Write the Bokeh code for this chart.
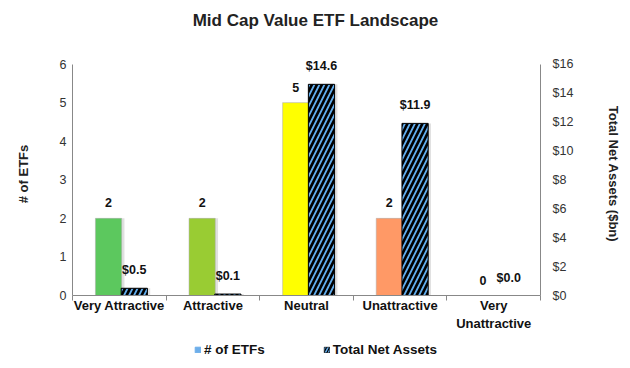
from bokeh.plotting import figure
from bokeh.layouts import column
from bokeh.models import (ColumnDataSource, Range1d, LinearAxis, FixedTicker,
                          NumeralTickFormatter, Legend, LegendItem, LabelSet, Label)
from bokeh.core.properties import value
from bokeh.embed import file_html
from bokeh.resources import INLINE

title_text = "Mid Cap Value ETF Landscape"
categories = ["Very Attractive", "Attractive", "Neutral", "Unattractive", "Very Unattractive"]
tick_labels = ["Very Attractive", "Attractive", "Neutral", "Unattractive", "Very\nUnattractive"]
etf_counts = [2, 2, 5, 2, 0]
net_assets = [0.5, 0.1, 14.6, 11.9, 0.0]
bar_colors = ["#5CC85E", "#99CC33", "#FFFF00", "#FF9966", "#C0C0C0"]
series_names = ["# of ETFs", "Total Net Assets"]
count_ticks = [0, 1, 2, 3, 4, 5, 6]
asset_ticks = [0, 2, 4, 6, 8, 10, 12, 14, 16]

FONT = "Liberation Sans"
HATCH_BLUE = "#62AEEF"
W = 624
HEADROOM = 1.05  # extra room above the top tick so the tallest label is not clipped

n = len(categories)
centers = [i + 0.5 for i in range(n)]
src = ColumnDataSource(dict(
    cat=categories,
    xc=[c - 0.115 for c in centers],
    xa=[c + 0.16 for c in centers],
    xcs=[c - 0.115 + 0.03 for c in centers],
    xas=[c + 0.16 + 0.03 for c in centers],
    cnt=etf_counts,
    tna=net_assets,
    cnt_lbl=[str(v) for v in etf_counts],
    tna_lbl=["$%.1f" % v for v in net_assets],
    color=bar_colors,
))

# ---- title strip
p0 = figure(width=W, height=36, output_backend="svg", toolbar_location=None,
            x_axis_type=None, y_axis_type=None, x_range=Range1d(0, 1), y_range=Range1d(0, 1),
            min_border=0, min_border_left=0, min_border_right=0,
            min_border_top=0, min_border_bottom=0)
p0.outline_line_color = None
p0.xgrid.visible = False
p0.ygrid.visible = False
p0.add_layout(Label(x=243, y=16, x_units="screen", y_units="screen", text=title_text,
                    text_font=FONT, text_font_size="17px", text_font_style="bold",
                    text_color="#222222", text_align="center", text_baseline="middle"))

# ---- main chart
ymax = count_ticks[-1] * HEADROOM
p = figure(width=W, height=304, output_backend="svg", toolbar_location=None,
           x_range=Range1d(0, n), y_range=Range1d(0, ymax),
           min_border_left=72, min_border_right=W - 542, min_border_top=16, min_border_bottom=45)
p.xgrid.visible = False
p.ygrid.visible = False
p.outline_line_color = None

p.extra_y_ranges = {"tna": Range1d(0, asset_ticks[-1] * HEADROOM)}

BW = 0.28
# soft shadows
p.vbar(x="xcs", top="cnt", width=BW, source=src, fill_color="#999999", fill_alpha=0.3,
       line_color=None)
p.vbar(x="xas", top="tna", width=BW, source=src, y_range_name="tna", fill_color="#999999",
       fill_alpha=0.3, line_color=None)

r_cnt = p.vbar(x="xc", top="cnt", width=BW, source=src, fill_color="color",
               line_color="#AAAAAA", line_width=0.5)
r_tna = p.vbar(x="xa", top="tna", width=BW, source=src, y_range_name="tna",
               fill_color="black", line_color="black", line_width=1,
               hatch_pattern="/", hatch_color=HATCH_BLUE, hatch_weight=1.8, hatch_scale=10)

lbl_style = dict(text_font=value(FONT), text_font_size=value("12.5px"),
                 text_font_style=value("bold"), text_align=value("center"),
                 text_baseline=value("bottom"), text_color=value("#111111"))
p.add_layout(LabelSet(x="xc", y="cnt", text="cnt_lbl", source=src, y_offset=11, **lbl_style))
p.add_layout(LabelSet(x="xa", y="tna", text="tna_lbl", source=src, y_range_name="tna",
                      y_offset=11, **lbl_style))

def style_axis(ax):
    ax.axis_line_color = "#888888"
    ax.major_label_text_font = FONT
    ax.major_label_text_font_size = "12.5px"
    ax.major_label_text_color = "#333333"
    ax.axis_label_text_font = FONT
    ax.axis_label_text_font_size = "13px"
    ax.axis_label_text_font_style = "bold"
    ax.axis_label_text_color = "#222222"
    ax.minor_tick_line_color = None

xa = p.xaxis[0]
style_axis(xa)
xa.ticker = FixedTicker(ticks=centers, minor_ticks=[float(i) for i in range(n + 1)])
xa.major_label_overrides = {c: t for c, t in zip(centers, tick_labels)}
xa.major_tick_line_color = None
xa.major_tick_out = 0
xa.major_tick_in = 0
xa.minor_tick_line_color = "#888888"
xa.minor_tick_out = 5
xa.minor_tick_in = 0
xa.major_label_text_font_style = "bold"
xa.major_label_text_font_size = "13px"
xa.major_label_text_color = "#111111"
xa.major_label_standoff = -3

ya = p.yaxis[0]
style_axis(ya)
ya.ticker = FixedTicker(ticks=count_ticks)
ya.bounds = (count_ticks[0], count_ticks[-1])
ya.axis_label = "# of ETFs"
ya.major_tick_out = 0
ya.major_tick_in = 0
ya.major_label_standoff = 6
ya.axis_label_standoff = 26

ra = LinearAxis(y_range_name="tna", ticker=FixedTicker(ticks=asset_ticks),
                formatter=NumeralTickFormatter(format="$0"),
                axis_label="Total Net Assets ($bn)")
style_axis(ra)
ra.bounds = (asset_ticks[0], asset_ticks[-1])
ra.major_tick_out = 0
ra.major_tick_in = 0
ra.major_label_standoff = 12
ra.axis_label_standoff = 30
p.add_layout(ra, "right")

# ---- legend strip
p2 = figure(width=W, height=20, output_backend="svg", toolbar_location=None,
            x_axis_type=None, y_axis_type=None, x_range=Range1d(0, 1), y_range=Range1d(0, 1),
            min_border=0, min_border_left=0, min_border_right=0,
            min_border_top=0, min_border_bottom=0)
p2.outline_line_color = None
p2.xgrid.visible = False
p2.ygrid.visible = False
lg_cnt = p2.vbar(x=[float("nan")], top=[float("nan")], width=0.1,
                 fill_color="#6DAEEA", line_color="#6DAEEA")
lg_tna = p2.vbar(x=[float("nan")], top=[float("nan")], width=0.1,
                 fill_color="black", line_color="black", line_width=0.5,
                 hatch_pattern="/", hatch_color=HATCH_BLUE, hatch_weight=1.5, hatch_scale=6)
legend = Legend(items=[LegendItem(label=series_names[0], renderers=[lg_cnt]),
                       LegendItem(label=series_names[1], renderers=[lg_tna])],
                orientation="horizontal", location=(122, 3),
                label_text_font=FONT, label_text_font_size="13.5px",
                label_text_font_style="bold", label_text_color="#111111",
                glyph_width=7, glyph_height=7, spacing=58, border_line_color=None,
                background_fill_alpha=0, padding=0, margin=0, label_standoff=3,
                label_height=12)
p2.add_layout(legend, "center")

open("out.html", "w").write(file_html(column(p0, p, p2, spacing=0), INLINE))
